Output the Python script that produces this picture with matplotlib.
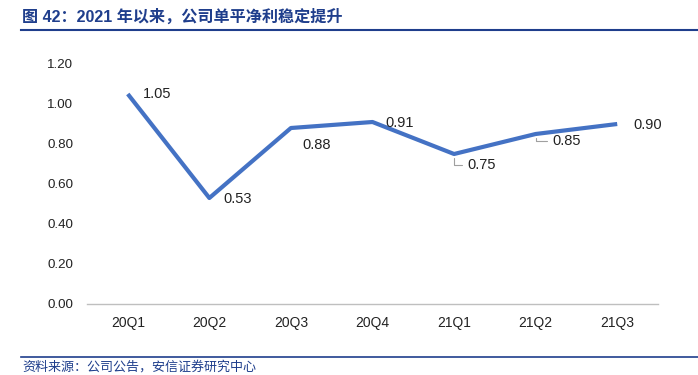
import matplotlib
matplotlib.use("Agg")
import matplotlib.pyplot as plt
from matplotlib.lines import Line2D

plt.rcParams['font.family'] = ['Liberation Sans', 'Noto Sans CJK SC', 'DejaVu Sans']

categories = ["20Q1", "20Q2", "20Q3", "20Q4", "21Q1", "21Q2", "21Q3"]
values = [1.05, 0.53, 0.88, 0.91, 0.75, 0.85, 0.90]
yticks = [0.0, 0.2, 0.4, 0.6, 0.8, 1.0, 1.2]
title = "图 42：2021 年以来，公司单平净利稳定提升"
source = "资料来源：公司公告，安信证券研究中心"

W, H = 698, 375
fig = plt.figure(figsize=(W / 100, H / 100), dpi=100)
ax = fig.add_axes([87 / W, 1 - 304 / H, (658 - 87) / W, (304 - 64) / H])

x = list(range(len(categories)))
ax.plot(x, values, color="#4472C4", lw=3, solid_capstyle="butt", solid_joinstyle="round")
ax.set_xlim(-0.5, len(categories) - 0.5)
ax.set_ylim(0, 1.2)
ax.set_yticks(yticks)
ax.set_yticklabels([f"{v:.2f}" for v in yticks], fontsize=9.6, color="#222222")
ax.set_xticks(x)
ax.set_xticklabels(categories, fontsize=10, color="#222222")
ax.tick_params(axis='x', length=0, pad=9)
ax.tick_params(axis='y', length=0, pad=10)
for s in ["top", "right", "left"]:
    ax.spines[s].set_visible(False)
ax.spines["bottom"].set_color("#BFBFBF")
ax.spines["bottom"].set_linewidth(1)

# label offsets in points (dx, dy) and whether a leader line is drawn
offsets = [(11, 0), (10, -1), (8, -12), (9, -1), (9.5, -8), (12, -5), (11.5, -0.5)]
leaders = [False, False, False, False, True, True, False]
for i, v in enumerate(values):
    dx, dy = offsets[i]
    if leaders[i]:
        ax.annotate(f"{v:.2f}", xy=(i, v), xytext=(dx, dy), textcoords="offset points",
                    fontsize=10.5, color="#222222", ha="left", va="center",
                    arrowprops=dict(arrowstyle="-", color="#A0A0A0", lw=0.8, shrinkA=2, shrinkB=3,
                                    connectionstyle="angle,angleA=0,angleB=90,rad=0"))
    else:
        ax.annotate(f"{v:.2f}", xy=(i, v), xytext=(dx, dy), textcoords="offset points",
                    fontsize=10.5, color="#222222", ha="left", va="center")

title_color = "#1F3E8C"
fig.text(22 / W, 1 - 17 / H, title, fontsize=11.6, fontweight="bold", color=title_color,
         ha="left", va="center")
fig.add_artist(Line2D([21 / W, 1.0], [1 - 30 / H, 1 - 30 / H], color=title_color, lw=1.5))
fig.add_artist(Line2D([21 / W, 1.0], [1 - 357 / H, 1 - 357 / H], color=title_color, lw=1.2))
fig.text(22 / W, 1 - 367 / H, source, fontsize=9.4, style="italic", color=title_color,
         ha="left", va="center")

fig.savefig("out.png", dpi=100)
